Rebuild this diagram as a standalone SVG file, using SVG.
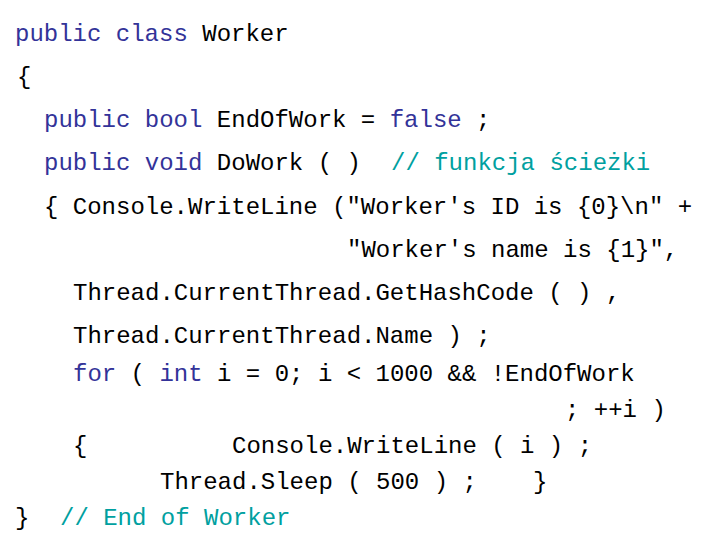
<svg xmlns="http://www.w3.org/2000/svg" width="720" height="540" viewBox="0 0 720 540">
<style>
text{font-family:"Liberation Mono","Courier New",monospace;font-size:24px;fill:#000;white-space:pre}
.k{fill:#333399}
.c{fill:#00a0a0}
</style>
<rect width="720" height="540" fill="#fff"/>
<text x="15" y="41" xml:space="preserve"><tspan class="k">public class</tspan> Worker</text>
<text x="17" y="84">{</text>
<text x="44" y="127" xml:space="preserve"><tspan class="k">public bool</tspan> EndOfWork = <tspan class="k">false</tspan> ;</text>
<text x="44" y="170" xml:space="preserve"><tspan class="k">public void</tspan> DoWork ( )</text>
<text x="391" y="170" class="c">// funkcja ścieżki</text>
<text x="44" y="214" xml:space="preserve">{ Console.WriteLine ("Worker's ID is {0}\n" +</text>
<text x="347" y="257" xml:space="preserve">"Worker's name is {1}",</text>
<text x="73" y="300" xml:space="preserve">Thread.CurrentThread.GetHashCode ( ) ,</text>
<text x="73" y="343" xml:space="preserve">Thread.CurrentThread.Name ) ;</text>
<text x="73" y="381" xml:space="preserve"><tspan class="k">for</tspan> ( <tspan class="k">int</tspan> i = 0; i &lt; 1000 &amp;&amp; !EndOfWork</text>
<text x="565" y="417" xml:space="preserve">; ++i )</text>
<text x="73" y="453">{</text>
<text x="232" y="453" xml:space="preserve">Console.WriteLine ( i ) ;</text>
<text x="160" y="489" xml:space="preserve">Thread.Sleep ( 500 ) ;</text>
<text x="533" y="489">}</text>
<text x="15" y="525">}</text>
<text x="60" y="525" class="c" xml:space="preserve">// End of Worker</text>
</svg>
